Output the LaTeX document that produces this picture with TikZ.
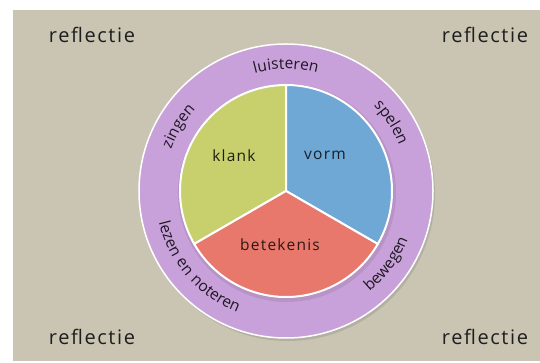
\documentclass[tikz,border=0pt]{standalone}
\usepackage{fontspec}
\setmainfont{Open Sans}[LetterSpace=8]
\usetikzlibrary{decorations.text, shadows}
\definecolor{rbeige}{HTML}{C9C5B2}
\definecolor{rpurple}{HTML}{C9A1DA}
\definecolor{rgreen}{HTML}{C7D06C}
\definecolor{rblue}{HTML}{6FA7D5}
\definecolor{rred}{HTML}{E8776C}
\definecolor{rtext}{HTML}{1E1E1E}
\newcommand{\ringfont}{\fontsize{15.5}{17}\selectfont}

\begin{document}
\begin{tikzpicture}[x=1pt, y=1pt,
  corner/.style={font=\fontsize{20}{22}\selectfont, text=rtext},
  part/.style={font=\fontsize{15.5}{17}\selectfont},
  sector/.style={draw=white, line width=2pt, line join=round},
  ringtext/.style={decorate, decoration={text along path, text align=center,
    text color=rpurple!15!black, text={|\ringfont|#1}}}]
\useasboundingbox (0,0) rectangle (540,363);
\fill[rbeige] (13,2) rectangle (540,353);
\coordinate (c) at (286,172);
% ring
\fill[rpurple, draw=white, line width=1.5pt,
  drop shadow={shadow xshift=2pt, shadow yshift=-3pt, opacity=0.3}] (c) circle (147);
\fill[rpurple!75!black, opacity=0.35] ([xshift=1pt, yshift=-2pt]c) circle (109);
% pie
\fill[rgreen, sector] (c) -- ++(90:106) arc (90:210:106) -- cycle;
\fill[rblue, sector] (c) -- ++(-30:106) arc (-30:90:106) -- cycle;
\fill[rred, sector] (c) -- ++(210:106) arc (210:330:106) -- cycle;
\node[part, text=rgreen!15!black] (klank) at (234,207) {klank};
\node[part, text=rblue!20!black] (vorm) at (325,208) {vorm};
\node[part, text=rred!20!black] (betekenis) at (280,118) {betekenis};
% ring labels
\path[ringtext=luisteren] (c) ++(130:122) arc (130:50:122);
\path[ringtext=spelen] (c) ++(63:122) arc (63:3:122);
\path[ringtext=zingen] (c) ++(179:122) arc (179:119:122);
\path[ringtext=lezen en noteren] (c) ++(165:131) arc (165:277:131);
\path[ringtext=bewegen] (c) ++(292:131) arc (292:356:131);
% corners
\node[corner] (refltl) at (92,328) {reflectie};
\node[corner] (refltr) at (485,328) {reflectie};
\node[corner] (reflbl) at (92,26) {reflectie};
\node[corner] (reflbr) at (485,26) {reflectie};
\end{tikzpicture}
\end{document}
